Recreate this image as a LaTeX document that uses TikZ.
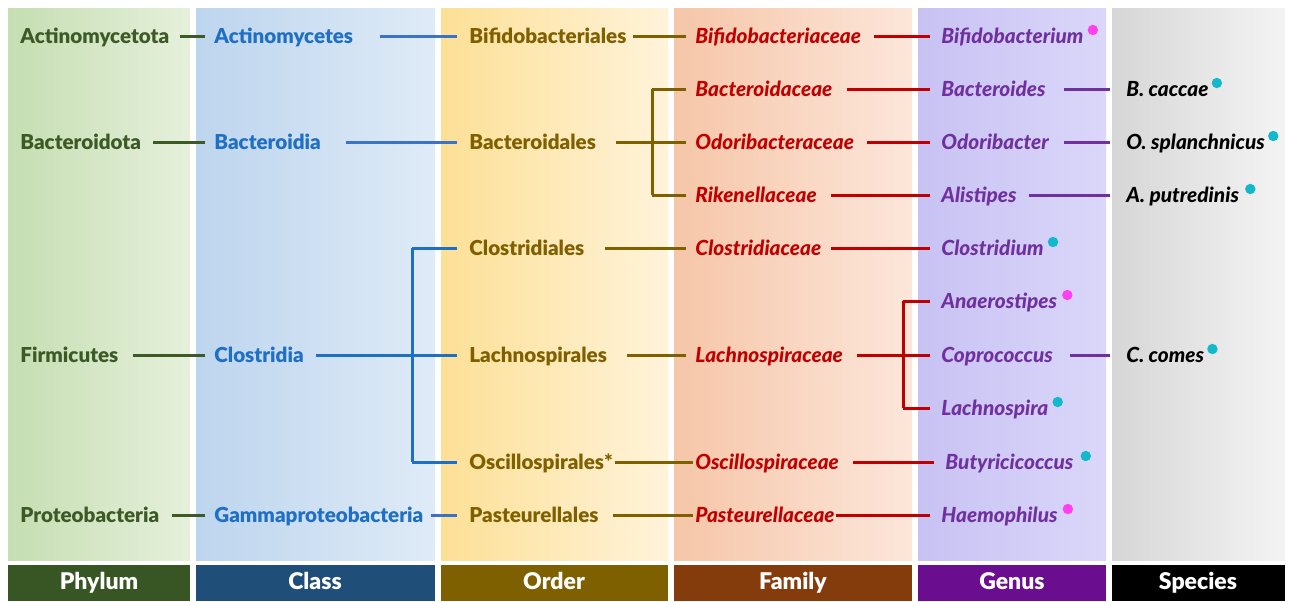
\documentclass[tikz,border=0pt]{standalone}
\usepackage{fontspec}
\setmainfont{Lato}[BoldFont={Lato Black},BoldItalicFont={Lato Black Italic}]
\usetikzlibrary{positioning}
\definecolor{phyc}{HTML}{3D5A26}
\definecolor{clac}{HTML}{1F6FC5}
\definecolor{clal}{HTML}{3C73C6}
\definecolor{ordc}{HTML}{7F6000}
\definecolor{famc}{HTML}{C00000}
\definecolor{genc}{HTML}{7030A0}
\definecolor{pinkdot}{HTML}{FF40F0}
\definecolor{cyandot}{HTML}{12B9CC}
\definecolor{phyA}{HTML}{C5DEB2}\definecolor{phyB}{HTML}{E6F0DB}
\definecolor{claA}{HTML}{BDD5EE}\definecolor{claB}{HTML}{DFEBF7}
\definecolor{ordA}{HTML}{FDE096}\definecolor{ordB}{HTML}{FFF3DA}
\definecolor{famA}{HTML}{F6C6A8}\definecolor{famB}{HTML}{FCE6DA}
\definecolor{genA}{HTML}{C8C2F3}\definecolor{genB}{HTML}{DAD7FA}
\definecolor{spcA}{HTML}{D6D6D6}\definecolor{spcB}{HTML}{F4F4F4}
\definecolor{phyH}{HTML}{375623}
\definecolor{claH}{HTML}{1F4E79}
\definecolor{ordH}{HTML}{7F6000}
\definecolor{famH}{HTML}{843C0C}
\definecolor{genH}{HTML}{6A0D8F}
\tikzstyle{tx}=[anchor=west,inner sep=0pt,text height=7.5pt,text depth=0pt,font=\bfseries\fontsize{10.3}{12}\selectfont]
\tikzstyle{itx}=[tx,font=\bfseries\itshape\fontsize{10.4}{12}\selectfont]
\tikzstyle{hd}=[text=white,text height=8.5pt,text depth=2pt,font=\bfseries\fontsize{11.5}{14}\selectfont]
\tikzstyle{ln}=[line width=1.5pt]
\tikzstyle{pl}=[ln,phyc,shorten <=5pt,shorten >=4.5pt]
\tikzstyle{cl}=[ln,clal,shorten <=6pt,shorten >=6pt]
\tikzstyle{ol}=[ln,ordc,shorten <=10pt,shorten >=4.5pt]
\tikzstyle{fl}=[ln,famc,shorten <=7pt,shorten >=5.5pt]
\tikzstyle{gl}=[ln,genc,shorten <=8pt,shorten >=8pt]
\tikzstyle{pd}=[pinkdot]
\tikzstyle{cd}=[cyandot]

\begin{document}
\begin{tikzpicture}[x=0.5pt,y=-0.5pt]
\useasboundingbox (0,0) rectangle (1289,601);
\fill[white] (0,0) rectangle (1289,601);
\shade[left color=phyA,right color=phyB] (8,8) rectangle (190,560);
\shade[left color=claA,right color=claB] (196,8) rectangle (435,560);
\shade[left color=ordA,right color=ordB] (441,8) rectangle (668,560);
\shade[left color=famA,right color=famB] (674,8) rectangle (912,560);
\shade[left color=genA,right color=genB] (918,8) rectangle (1106,560);
\shade[left color=spcA,right color=spcB] (1112,8) rectangle (1285,560);

\fill[phyH] (8,565) rectangle (190,601);
\fill[claH] (196,565) rectangle (435,601);
\fill[ordH] (441,565) rectangle (668,601);
\fill[famH] (674,565) rectangle (912,601);
\fill[genH] (918,565) rectangle (1106,601);
\fill[black] (1112,565) rectangle (1285,601);
\node[hd] (hp) at (99,583) {Phylum};
\node[hd] (hc) at (315,583) {Class};
\node[hd] (ho) at (554,583) {Order};
\node[hd] (hf) at (793,583) {Family};
\node[hd] (hg) at (1012,583) {Genus};
\node[hd] (hs) at (1198,583) {Species};

\node[tx,phyc] (p1) at (20,36) {Actinomycetota};
\node[tx,phyc] (p2) at (20,142) {Bacteroidota};
\node[tx,phyc] (p3) at (20,355) {Firmicutes};
\node[tx,phyc] (p4) at (20,515) {Proteobacteria};

\node[tx,clac] (c1) at (214,36) {Actinomycetes};
\node[tx,clac] (c2) at (214,142) {Bacteroidia};
\node[tx,clac] (c3) at (214,355) {Clostridia};
\node[tx,clac] (c4) at (214,515) {Gammaproteobacteria};

\node[tx,ordc] (o1) at (469,36) {Bifidobacteriales};
\node[tx,ordc] (o2) at (469,142) {Bacteroidales};
\node[tx,ordc] (o3) at (469,248) {Clostridiales};
\node[tx,ordc] (o4) at (469,355) {Lachnospirales};
\node[tx,ordc] (o5) at (469,462) {Oscillospirales*};
\node[tx,ordc] (o6) at (469,515) {Pasteurellales};

\node[itx,famc] (f1) at (695,36) {Bifidobacteriaceae};
\node[itx,famc] (f2) at (695,89) {Bacteroidaceae};
\node[itx,famc] (f3) at (695,142) {Odoribacteraceae};
\node[itx,famc] (f4) at (695,195) {Rikenellaceae};
\node[itx,famc] (f5) at (695,248) {Clostridiaceae};
\node[itx,famc] (f6) at (695,355) {Lachnospiraceae};
\node[itx,famc] (f7) at (695,462) {Oscillospiraceae};
\node[itx,famc] (f8) at (695,515) {Pasteurellaceae};

\node[itx,genc] (g1) at (941,36) {Bifidobacterium};
\node[itx,genc] (g2) at (941,89) {Bacteroides};
\node[itx,genc] (g3) at (941,142) {Odoribacter};
\node[itx,genc] (g4) at (941,195) {Alistipes};
\node[itx,genc] (g5) at (941,248) {Clostridium};
\node[itx,genc] (g6) at (941,301) {Anaerostipes};
\node[itx,genc] (g7) at (941,355) {Coprococcus};
\node[itx,genc] (g8) at (941,408) {Lachnospira};
\node[itx,genc] (g9) at (945,462) {Butyricicoccus};
\node[itx,genc] (g10) at (941,515) {Haemophilus};

\node[itx,black] (s1) at (1126,89) {B. caccae};
\node[itx,black] (s2) at (1126,142) {O. splanchnicus};
\node[itx,black] (s3) at (1126,195) {A. putredinis};
\node[itx,black] (s4) at (1126,355) {C. comes};

\coordinate (bo) at (652,142);
\coordinate (bc) at (412,355);
\coordinate (bf) at (903,355);

\draw[pl] (p1.east) -- (c1.west);
\draw[pl,shorten <=6pt] (p2.east) -- (c2.west);
\draw[pl,shorten <=7pt] (p3.east) -- (c3.west);
\draw[pl,shorten <=6pt] (p4.east) -- (c4.west);

\draw[cl,shorten <=13pt] (c1.east) -- (o1.west);
\draw[cl,shorten <=12.5pt] (c2.east) -- (o2.west);
\draw[cl,shorten <=3.5pt,shorten >=6pt] (c4.east) -- (o6.west);
\draw[cl,clac,shorten >=0pt] (c3.east) -- (bc);
\draw[ln,clac,shorten >=6pt] (bc |- o3) -- (o3.west);
\draw[ln,clac,shorten >=6pt] (bc) -- (o4.west);
\draw[ln,clac,shorten >=6pt] (bc |- o5) -- (o5.west);
\draw[ln,clac] (bc |- o3) -- (bc |- o5);

\draw[ol,shorten <=3pt] (o1.east) -- (f1.west);
\draw[ol,shorten >=0pt] (o2.east) -- (bo);
\draw[ln,ordc,shorten >=4.5pt] (bo |- f2) -- (f2.west);
\draw[ln,ordc,shorten >=4.5pt] (bo) -- (f3.west);
\draw[ln,ordc,shorten >=4.5pt] (bo |- f4) -- (f4.west);
\draw[ln,ordc] (bo |- f2) -- (bo |- f4);
\draw[ol] (o3.east) -- (f5.west);
\draw[ol] (o4.east) -- (f6.west);
\draw[ol,shorten <=1pt,shorten >=1pt] (o5.east) -- (f7.west);
\draw[ol,shorten <=7pt,shorten >=1pt] (o6.east) -- (f8.west);

\draw[fl,shorten <=6.5pt] (f1.east) -- (g1.west);
\draw[fl] (f2.east) -- (g2.west);
\draw[fl,shorten <=6.5pt] (f3.east) -- (g3.west);
\draw[fl] (f4.east) -- (g4.west);
\draw[fl,shorten <=4.5pt] (f5.east) -- (g5.west);
\draw[fl,shorten >=0pt] (f6.east) -- (bf);
\draw[ln,famc,shorten >=5.5pt] (bf |- g6) -- (g6.west);
\draw[ln,famc,shorten >=5.5pt] (bf) -- (g7.west);
\draw[ln,famc,shorten >=5.5pt] (bf |- g8) -- (g8.west);
\draw[ln,famc] (bf |- g6) -- (bf |- g8);
\draw[fl] (f7.east) -- (g9.west);
\draw[fl,shorten <=0.5pt] (f8.east) -- (g10.west);

\draw[gl,shorten <=9pt] (g2.east) -- (s1.west);
\draw[gl,shorten <=7.5pt] (g3.east) -- (s2.west);
\draw[gl,shorten <=6pt] (g4.east) -- (s3.west);
\draw[gl,shorten <=8.5pt] (g7.east) -- (s4.west);

\fill[pd] ([xshift=4.5pt,yshift=3pt]g1.east) circle (2.6pt);
\fill[cd] ([xshift=4.5pt,yshift=3pt]g5.east) circle (2.6pt);
\fill[pd] ([xshift=5pt,yshift=3pt]g6.east) circle (2.6pt);
\fill[cd] ([xshift=4.5pt,yshift=3pt]g8.east) circle (2.6pt);
\fill[cd] ([xshift=6pt,yshift=3pt]g9.east) circle (2.6pt);
\fill[pd] ([xshift=5pt,yshift=3pt]g10.east) circle (2.6pt);
\fill[cd] ([xshift=4pt,yshift=3pt]s1.east) circle (2.6pt);
\fill[cd] ([xshift=4pt,yshift=3pt]s2.east) circle (2.6pt);
\fill[cd] ([xshift=5.5pt,yshift=3pt]s3.east) circle (2.6pt);
\fill[cd] ([xshift=4pt,yshift=3pt]s4.east) circle (2.6pt);
\end{tikzpicture}
\end{document}
